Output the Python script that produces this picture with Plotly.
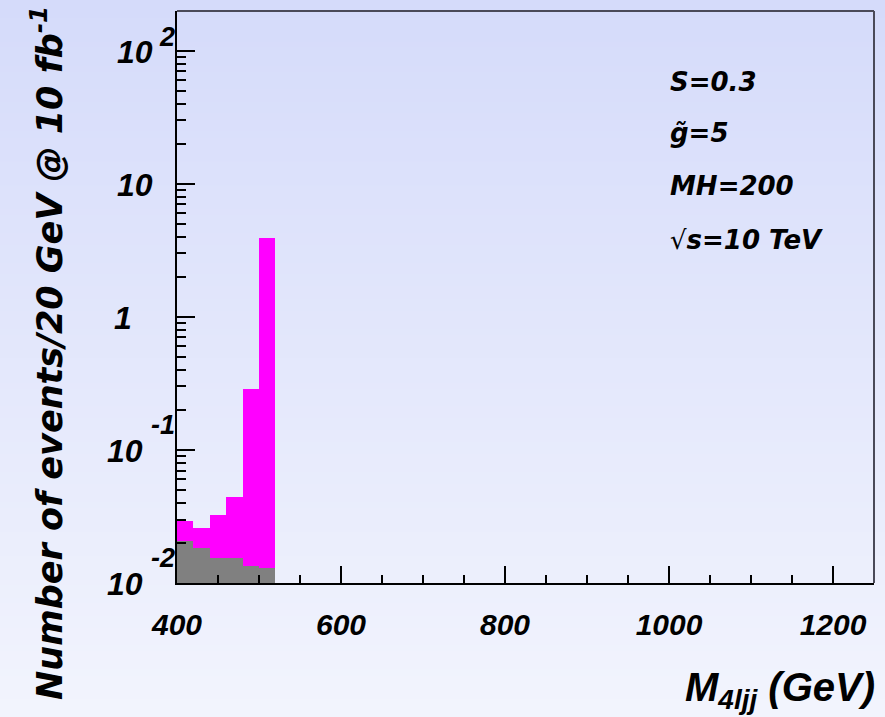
import plotly.graph_objects as go
import math

# ---------------- data ----------------
bin_low = [400, 420, 440, 460, 480, 500]
bin_width = 20
total_signal_bkg = [0.0293, 0.0258, 0.0325, 0.0443, 0.285, 3.9]
background = [0.0206, 0.0183, 0.0154, 0.0154, 0.0134, 0.0129]

x_tickvals = [400, 600, 800, 1000, 1200]
x_ticktext = ["400", "600", "800", "1000", "1200"]
y_tick_values = [1e2, 1e1, 1, 1e-1, 1e-2]
y_tick_base = ["10", "10", "1", "10", "10"]
y_tick_exp = ["2", "", "", "-1", "-2"]
info_lines = ["S=0.3", "g\u0303=5", "MH=200",
              "<span style='font-weight:normal;font-style:normal'>\u221a</span>s=10 TeV"]

# ---------------- layout geometry ----------------
W, H = 885, 717
L, R, T, B = 177, 11, 11, 134
PW, PH = W - L - R, H - T - B


def px(xp):
    return (xp - L) / PW


def py(yp):
    return (H - B - yp) / PH


FONT = "Liberation Sans, Arial, sans-serif"
FONT2 = "DejaVu Sans, sans-serif"

centers = [b + bin_width / 2 for b in bin_low]

fig = go.Figure()
fig.add_trace(go.Bar(x=centers, y=total_signal_bkg, width=bin_width,
                     marker=dict(color="#ff00ff", line=dict(width=0)),
                     showlegend=False, hoverinfo="skip"))
fig.add_trace(go.Bar(x=centers, y=background, width=bin_width,
                     marker=dict(color="#808080", line=dict(width=0)),
                     showlegend=False, hoverinfo="skip"))

# background gradient
shapes = []
N = 120
y0p, y1p = py(H), py(0)
top_c = (213, 219, 250)
bot_c = (242, 244, 253)
for i in range(N):
    f = i / (N - 1)
    c = tuple(int(round(bot_c[k] + (top_c[k] - bot_c[k]) * f)) for k in range(3))
    ya = y0p + (y1p - y0p) * i / N
    yb = y0p + (y1p - y0p) * (i + 1) / N + 0.002
    shapes.append(dict(type="rect", xref="paper", yref="paper",
                       x0=px(0), x1=px(W), y0=ya, y1=yb,
                       fillcolor="rgb(%d,%d,%d)" % c, line=dict(width=0),
                       layer="below"))
# top and right frame
shapes.append(dict(type="line", xref="paper", yref="paper", x0=0, x1=1, y0=1, y1=1,
                   line=dict(color="#4a4a58", width=2)))
shapes.append(dict(type="line", xref="paper", yref="paper", x0=1, x1=1, y0=0, y1=1,
                   line=dict(color="#4a4a58", width=2)))

annotations = []
# y tick labels
exp_raise = {"2": 14, "-1": 25, "-2": 25}
for v, b, e in zip(y_tick_values, y_tick_base, y_tick_exp):
    yl = math.log10(v)
    if e:
        base_right = 155 if len(e) == 1 else 145
        annotations.append(dict(x=px(base_right), xref="paper", y=yl, yref="y",
                                text=b, showarrow=False, xanchor="right", yanchor="middle",
                                yshift=-1,
                                font=dict(family=FONT, size=32, color="black",
                                          weight="bold", style="italic")))
        annotations.append(dict(x=px(177), xref="paper", y=yl, yref="y",
                                text=e, showarrow=False, xanchor="right", yanchor="middle",
                                yshift=exp_raise[e],
                                font=dict(family=FONT, size=27, color="black",
                                          weight="bold", style="italic")))
    else:
        right = 155 if b == "10" else 134
        annotations.append(dict(x=px(right), xref="paper", y=yl, yref="y",
                                text=b, showarrow=False, xanchor="right", yanchor="middle",
                                yshift=-1,
                                font=dict(family=FONT, size=32, color="black",
                                          weight="bold", style="italic")))

# info text
info_y = [82, 133, 186, 240]
for t, yy in zip(info_lines, info_y):
    annotations.append(dict(x=px(668), xref="paper", y=py(yy), yref="paper",
                            text=t, showarrow=False, xanchor="left", yanchor="middle",
                            font=dict(family=FONT2, size=26, color="black",
                                      weight="bold", style="italic")))

# y title
annotations.append(dict(x=px(47), xref="paper", y=py(353), yref="paper",
                        text="Number of events/20 GeV @ 10 fb<sup>-1</sup>",
                        textangle=-90, showarrow=False, xanchor="center", yanchor="middle",
                        font=dict(family=FONT2, size=35, color="black",
                                  weight="bold", style="italic")))
# x title
annotations.append(dict(x=px(877), xref="paper", y=py(690), yref="paper",
                        text="M<sub>4ljj</sub> (GeV)",
                        showarrow=False, xanchor="right", yanchor="middle",
                        font=dict(family=FONT, size=40, color="black",
                                  weight="bold", style="italic")))

fig.update_layout(
    width=W, height=H,
    margin=dict(l=L, r=R, t=T, b=B, pad=0),
    paper_bgcolor="rgb(228,232,251)",
    plot_bgcolor="rgba(0,0,0,0)",
    barmode="overlay",
    bargap=0,
    shapes=shapes,
    annotations=annotations,
    xaxis=dict(range=[400, 1250], tickvals=x_tickvals, ticktext=x_ticktext,
               ticks="inside", ticklen=17, tickwidth=1.5, tickcolor="black",
               showline=True, linecolor="black", linewidth=2,
               showgrid=False, zeroline=False,
               ticklabelstandoff=14,
               minor=dict(dtick=50, tick0=400, ticks="inside", ticklen=8,
                          tickwidth=1.5, tickcolor="black", showgrid=False),
               tickfont=dict(family=FONT, size=30, color="black",
                             weight="bold", style="italic")),
    yaxis=dict(type="log", range=[-2, 2.298], dtick=1,
               ticks="inside", ticklen=18, tickwidth=1.5, tickcolor="black",
               showticklabels=False,
               showline=True, linecolor="black", linewidth=2,
               showgrid=False, zeroline=False,
               minor=dict(dtick="D1", ticks="inside", ticklen=9,
                          tickwidth=1.5, tickcolor="black", showgrid=False)),
)

fig.write_html(
    "out.html",
    config={"displayModeBar": False},
    post_script="document.body.style.margin='0';document.body.style.overflow='hidden';"
                "document.body.style.background='rgb(228,232,251)';",
)
